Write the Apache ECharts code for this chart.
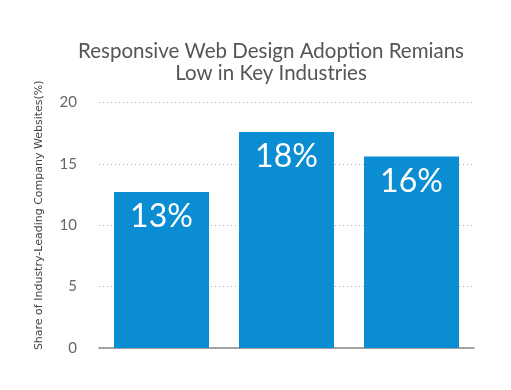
<!DOCTYPE html>
<html><head><meta charset="utf-8">
<script src="https://cdn.jsdelivr.net/npm/echarts@6/dist/echarts.min.js"></script>
<style>html,body{margin:0;padding:0;background:#fff}#c{width:511px;height:390px}</style>
</head><body><div id="c"></div>
<script>
var categories = ['A', 'B', 'C'];
var values = [12.7, 17.6, 15.6];
var labels = ['13%', '18%', '16%'];
var yTicks = [0, 5, 10, 15, 20];

var chart = echarts.init(document.getElementById('c'));
chart.setOption({
  animation: false,
  title: {
    text: 'Responsive Web Design Adoption Remians\nLow in Key Industries',
    left: 266, top: 35, textAlign: 'center',
    textStyle: {fontFamily: 'Lato', fontSize: 20.5, fontWeight: 'normal', color: '#555', lineHeight: 22}
  },
  grid: {left: 99, right: 37, top: 102.5, bottom: 42},
  xAxis: {
    type: 'category', data: categories,
    axisLine: {lineStyle: {color: '#888', width: 1.5}},
    axisTick: {show: false}, axisLabel: {show: false}
  },
  yAxis: {
    type: 'value', min: 0, max: 20, interval: 5,
    name: 'Share of Industry-Leading Company Websites(%)',
    nameLocation: 'middle', nameGap: 54, nameRotate: 90,
    nameTextStyle: {fontFamily: 'DejaVu Sans', fontSize: 11, color: '#444', padding: [0, 0, 0, 20]},
    axisLabel: {fontFamily: 'Lato', fontSize: 15, color: '#666', margin: 22,
      formatter: function (v) { return yTicks.indexOf(v) >= 0 ? String(v) : ''; }},
    splitLine: {lineStyle: {type: [1, 3], color: '#aaa', width: 1}},
    axisLine: {show: false}, axisTick: {show: false}
  },
  series: [{
    type: 'bar', data: values, barWidth: 95,
    itemStyle: {color: '#0a8dd2'},
    label: {show: true, position: 'insideTop', distance: 9,
      fontFamily: 'Lato', fontSize: 32, color: '#fff',
      formatter: function (p) { return labels[p.dataIndex]; }}
  }]
});
</script></body></html>
